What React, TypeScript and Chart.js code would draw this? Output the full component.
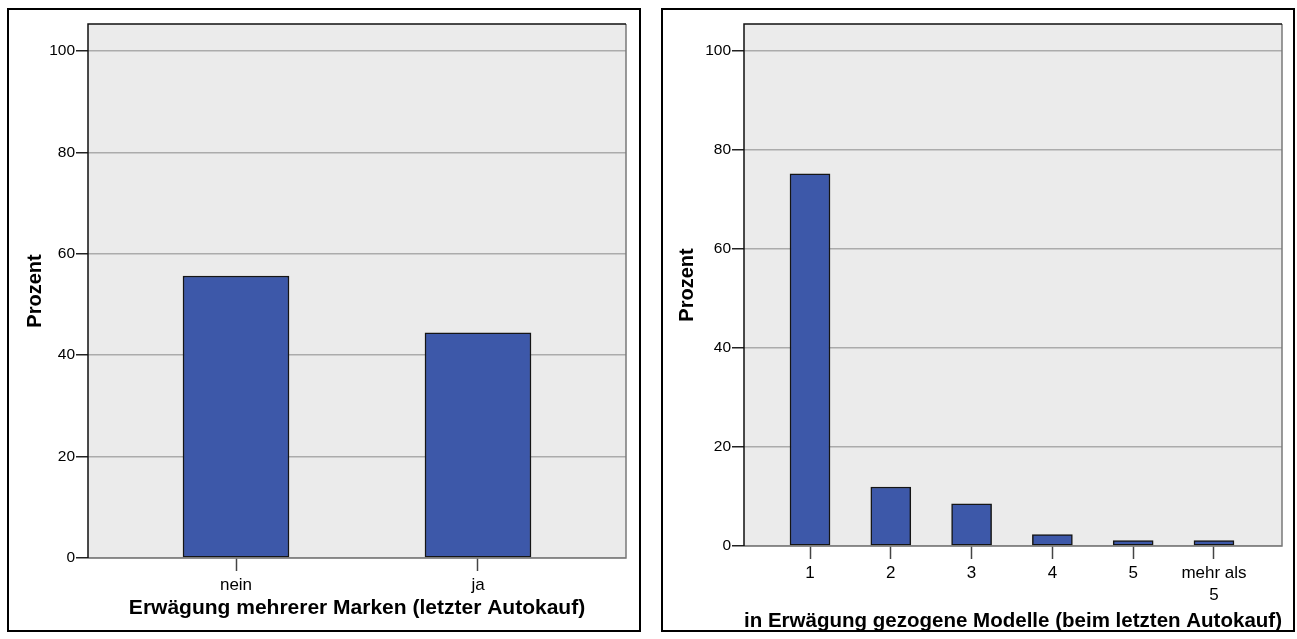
import React, { useEffect, useRef } from 'react';
import { Chart, registerables } from 'chart.js';

Chart.register(...registerables);

// ---- data ----
const leftCategories: (string | string[])[] = ['nein', 'ja'];
const leftValues: number[] = [55.6, 44.4];
const leftXTitle = 'Erwägung mehrerer Marken (letzter Autokauf)';

const rightCategories: (string | string[])[] = ['1', '2', '3', '4', '5', ['mehr als', '5']];
const rightValues: number[] = [75.1, 11.9, 8.5, 2.3, 1.1, 1.1];
const rightXTitle = 'in Erwägung gezogene Modelle (beim letzten Autokauf)';

const yTitle = 'Prozent';
const yTickStep = 20;
const yTop = 105.3;

const FONT = '"Liberation Sans", Arial, Helvetica, sans-serif';

const plotFrame = {
  id: 'plotFrame',
  beforeDraw(chart: any) {
    const { ctx, chartArea: a } = chart;
    ctx.save();
    ctx.fillStyle = '#ebebeb';
    ctx.fillRect(a.left, a.top, a.right - a.left, a.bottom - a.top);
    ctx.restore();
  },
  afterDatasetsDraw(chart: any) {
    const { ctx, chartArea: a } = chart;
    ctx.save();
    ctx.lineWidth = 1.5;
    ctx.strokeStyle = '#7a7a7a';
    ctx.beginPath();
    ctx.moveTo(a.left, a.bottom);
    ctx.lineTo(a.right, a.bottom);
    ctx.lineTo(a.right, a.top);
    ctx.stroke();
    ctx.strokeStyle = '#111';
    ctx.beginPath();
    ctx.moveTo(a.right, a.top);
    ctx.lineTo(a.left, a.top);
    ctx.lineTo(a.left, a.bottom);
    ctx.stroke();
    ctx.restore();
  },
};

type Geo = {
  xMin: number;
  xMax: number;
  barPx: number;
  yWidth: number;
  xHeight: number;
  padTop: number;
  padRight: number;
  yTitlePad: number;
  xTitlePadBottom: number;
};

function makeConfig(cats: (string | string[])[], vals: number[], xTitle: string, g: Geo): any {
  return {
    type: 'bar',
    data: {
      datasets: [
        {
          data: cats.map((_, i) => ({ x: i, y: vals[i] })),
          backgroundColor: '#3d58a9',
          borderColor: '#151515',
          borderWidth: 1.5,
          borderSkipped: false,
          barThickness: g.barPx,
        },
      ],
    },
    options: {
      responsive: false,
      animation: false,
      events: [],
      layout: { padding: { top: g.padTop, right: g.padRight, left: 0, bottom: 0 } },
      plugins: { legend: { display: false }, tooltip: { enabled: false } },
      scales: {
        x: {
          type: 'linear',
          min: g.xMin,
          max: g.xMax,
          offset: false,
          afterFit: (s: any) => {
            s.height = g.xHeight;
          },
          border: { display: false },
          grid: {
            offset: false,
            drawOnChartArea: false,
            drawTicks: true,
            tickLength: 13,
            tickColor: '#444',
            tickWidth: 1.5,
          },
          ticks: {
            stepSize: 1,
            includeBounds: false,
            autoSkip: false,
            maxRotation: 0,
            padding: 3,
            color: '#000',
            font: { family: FONT, size: 17, lineHeight: 1.3 },
            callback: (v: number) => {
              const i = Math.round(v);
              return Math.abs(v - i) < 1e-6 && cats[i] !== undefined ? cats[i] : '';
            },
          },
          title: {
            display: true,
            text: xTitle,
            color: '#000',
            font: { family: FONT, size: 21, weight: 'bold' },
            padding: { top: 0, bottom: g.xTitlePadBottom },
          },
        },
        y: {
          type: 'linear',
          min: 0,
          max: yTop,
          afterFit: (s: any) => {
            s.width = g.yWidth;
          },
          border: { display: false },
          grid: {
            color: '#ababab',
            lineWidth: 1.5,
            drawTicks: true,
            tickLength: 12,
            tickColor: '#222',
            tickWidth: 1.5,
          },
          ticks: {
            stepSize: yTickStep,
            includeBounds: false,
            padding: 1,
            color: '#000',
            font: { family: FONT, size: 15.5 },
          },
          title: {
            display: true,
            text: yTitle,
            color: '#000',
            font: { family: FONT, size: 20, weight: 'bold' },
            padding: { top: g.yTitlePad, bottom: 0 },
          },
        },
      },
    },
    plugins: [plotFrame],
  };
}

export default function App() {
  const leftRef = useRef<HTMLCanvasElement>(null);
  const rightRef = useRef<HTMLCanvasElement>(null);

  useEffect(() => {
    const c1 = new Chart(
      leftRef.current!,
      makeConfig(leftCategories, leftValues, leftXTitle, {
        xMin: -0.6116,
        xMax: 1.6116,
        barPx: 106,
        yWidth: 88,
        xHeight: 81,
        padTop: 24,
        padRight: 22,
        yTitlePad: 23,
        xTitlePadBottom: 18.4,
      })
    );
    const c2 = new Chart(
      rightRef.current!,
      makeConfig(rightCategories, rightValues, rightXTitle, {
        xMin: -0.817,
        xMax: 5.842,
        barPx: 40,
        yWidth: 96,
        xHeight: 93,
        padTop: 24,
        padRight: 15,
        yTitlePad: 27,
        xTitlePadBottom: 5.6,
      })
    );
    return () => {
      c1.destroy();
      c2.destroy();
    };
  }, []);

  const panel: React.CSSProperties = {
    position: 'absolute',
    top: 8,
    width: 634,
    height: 624,
    border: '2px solid #000',
    boxSizing: 'border-box',
    pointerEvents: 'none',
  };

  return (
    <div style={{ position: 'absolute', left: 0, top: 0, width: 1297, height: 639, background: '#fff', overflow: 'hidden' }}>
      <canvas ref={leftRef} width={648} height={639} style={{ position: 'absolute', left: 0, top: 0, display: 'block' }} />
      <canvas ref={rightRef} width={649} height={639} style={{ position: 'absolute', left: 648, top: 0, display: 'block' }} />
      <div style={{ ...panel, left: 7 }} />
      <div style={{ ...panel, left: 661 }} />
    </div>
  );
}
